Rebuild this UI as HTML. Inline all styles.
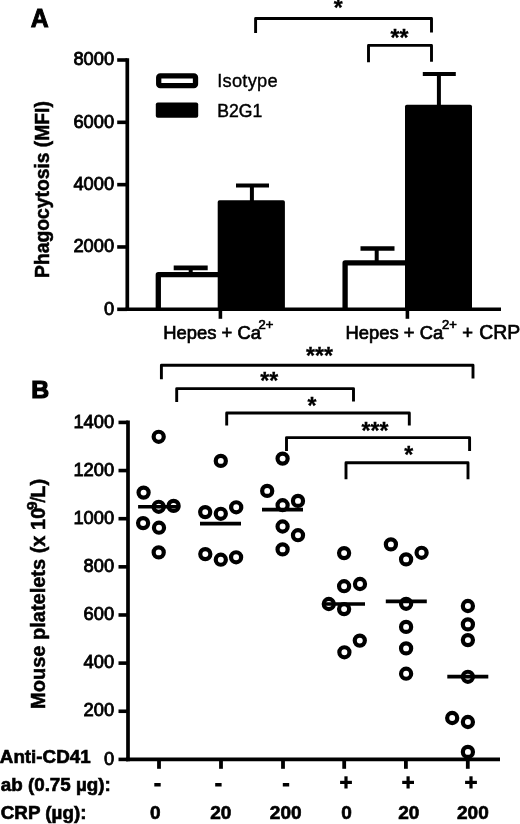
<!DOCTYPE html>
<html><head><meta charset="utf-8"><style>
html,body{margin:0;padding:0;background:#fff;}
svg{display:block;font-family:"Liberation Sans", sans-serif;filter:grayscale(1);}
</style></head><body>
<svg width="520" height="824" viewBox="0 0 520 824">
<rect width="520" height="824" fill="#fff"/>
<text x="30.7" y="27.2" font-size="24.9" font-weight="bold" text-anchor="start" stroke="#000" stroke-width="0.9" >A</text>
<line x1="127.3" y1="58.2" x2="127.3" y2="311" stroke="#000" stroke-width="3.7" stroke-linecap="butt"/>
<line x1="117.2" y1="309.3" x2="127.3" y2="309.3" stroke="#000" stroke-width="3.6" stroke-linecap="butt"/>
<text transform="translate(114.2,314.6) scale(0.965,1)" font-size="19" font-weight="normal" text-anchor="end" stroke="#000" stroke-width="0.85" >0</text>
<line x1="117.2" y1="246.97" x2="127.3" y2="246.97" stroke="#000" stroke-width="3.6" stroke-linecap="butt"/>
<text transform="translate(114.2,252.27) scale(0.965,1)" font-size="19" font-weight="normal" text-anchor="end" stroke="#000" stroke-width="0.85" >2000</text>
<line x1="117.2" y1="184.65" x2="127.3" y2="184.65" stroke="#000" stroke-width="3.6" stroke-linecap="butt"/>
<text transform="translate(114.2,189.95) scale(0.965,1)" font-size="19" font-weight="normal" text-anchor="end" stroke="#000" stroke-width="0.85" >4000</text>
<line x1="117.2" y1="122.322" x2="127.3" y2="122.322" stroke="#000" stroke-width="3.6" stroke-linecap="butt"/>
<text transform="translate(114.2,127.622) scale(0.965,1)" font-size="19" font-weight="normal" text-anchor="end" stroke="#000" stroke-width="0.85" >6000</text>
<line x1="117.2" y1="60" x2="127.3" y2="60" stroke="#000" stroke-width="3.6" stroke-linecap="butt"/>
<text transform="translate(114.2,65.296) scale(0.965,1)" font-size="19" font-weight="normal" text-anchor="end" stroke="#000" stroke-width="0.85" >8000</text>
<line x1="125.5" y1="309.3" x2="501" y2="309.3" stroke="#000" stroke-width="3.6" stroke-linecap="butt"/>
<line x1="220.4" y1="309.3" x2="220.4" y2="318.8" stroke="#000" stroke-width="3.6" stroke-linecap="butt"/>
<line x1="407.4" y1="309.3" x2="407.4" y2="318.8" stroke="#000" stroke-width="3.6" stroke-linecap="butt"/>
<path d="M158.3 309.3 V274.7 H220.3" fill="none" stroke="#000" stroke-width="5.3" stroke-linejoin="round"/>
<path d="M217.7 309.3 V202.0 Q217.7 200.2 219.5 200.2 H283.1 Q284.9 200.2 284.9 202.0 V309.3 Z" fill="#000"/>
<line x1="190.7" y1="274.7" x2="190.7" y2="267.9" stroke="#000" stroke-width="4" stroke-linecap="butt"/>
<line x1="173.7" y1="267.9" x2="207.7" y2="267.9" stroke="#000" stroke-width="4.6" stroke-linecap="butt"/>
<line x1="251.9" y1="201" x2="251.9" y2="185.5" stroke="#000" stroke-width="4" stroke-linecap="butt"/>
<line x1="236.0" y1="185.5" x2="269.0" y2="185.5" stroke="#000" stroke-width="3.9" stroke-linecap="butt"/>
<path d="M345.1 309.3 V262.9 H407.4" fill="none" stroke="#000" stroke-width="5.3" stroke-linejoin="round"/>
<path d="M405 309.3 V106.6 Q405 104.8 406.8 104.8 H470.2 Q472 104.8 472 106.6 V309.3 Z" fill="#000"/>
<line x1="376.7" y1="262.9" x2="376.7" y2="248.5" stroke="#000" stroke-width="4" stroke-linecap="butt"/>
<line x1="360.5" y1="248.5" x2="394.5" y2="248.5" stroke="#000" stroke-width="4.6" stroke-linecap="butt"/>
<line x1="438.9" y1="106" x2="438.9" y2="74" stroke="#000" stroke-width="4" stroke-linecap="butt"/>
<line x1="422.8" y1="74" x2="455.8" y2="74" stroke="#000" stroke-width="3.9" stroke-linecap="butt"/>
<rect x="158.7" y="75.95" width="36.8" height="9.7" rx="1.5" fill="#fff" stroke="#000" stroke-width="5.3"/>
<rect x="155.8" y="102.4" width="42.4" height="15.3" rx="2" fill="#000"/>
<text x="217.2" y="87.3" font-size="18.3" font-weight="normal" text-anchor="start" stroke="#000" stroke-width="0.35" letter-spacing="0.25">Isotype</text>
<text x="217.2" y="117.3" font-size="17.6" font-weight="normal" text-anchor="start" stroke="#000" stroke-width="0.45" >B2G1</text>
<text transform="translate(48.6,277.9) rotate(-90)" font-size="19.3" font-weight="bold" stroke="#000" stroke-width="0.5">Phagocytosis (MFI)</text>
<text x="163.3" y="338.5" font-size="18.4" font-weight="normal" text-anchor="start" stroke="#000" stroke-width="0.7" >Hepes + Ca<tspan font-size="13" dy="-10" dx="-2.5">2+</tspan></text>
<text x="345.6" y="338.5" font-size="18.4" font-weight="normal" text-anchor="start" stroke="#000" stroke-width="0.7" >Hepes + Ca<tspan font-size="13" dy="-10" dx="-1.3">2+</tspan></text>
<text x="462.2" y="338.5" font-size="18.4" font-weight="normal" text-anchor="start" stroke="#000" stroke-width="0.7" >+</text>
<text x="479.2" y="338.8" font-size="19.4" font-weight="normal" text-anchor="start" stroke="#000" stroke-width="0.7" >CRP</text>
<path d="M255.6 33 V18.5 H431.5 V32.5" fill="none" stroke="#000" stroke-width="2.9" stroke-linejoin="round"/>
<path d="M368.5 62.2 V45.4 H431.5 V61.8" fill="none" stroke="#000" stroke-width="2.9" stroke-linejoin="round"/>
<text x="338.2" y="15.9" font-size="23" font-weight="bold" text-anchor="middle" stroke="#000" stroke-width="0.3" >*</text>
<text x="399.5" y="45.6" font-size="23" font-weight="bold" text-anchor="middle" stroke="#000" stroke-width="0.3" >**</text>
<text x="31.2" y="397.9" font-size="24.8" font-weight="bold" text-anchor="start" stroke="#000" stroke-width="1.2" >B</text>
<line x1="128" y1="420.6" x2="128" y2="761.3" stroke="#000" stroke-width="3.7" stroke-linecap="butt"/>
<line x1="118.5" y1="759.4" x2="128" y2="759.4" stroke="#000" stroke-width="3.6" stroke-linecap="butt"/>
<text transform="translate(114.2,764.6) scale(0.965,1)" font-size="19" font-weight="normal" text-anchor="end" stroke="#000" stroke-width="0.85" >0</text>
<line x1="118.5" y1="711.26" x2="128" y2="711.26" stroke="#000" stroke-width="3.6" stroke-linecap="butt"/>
<text transform="translate(114.2,716.46) scale(0.965,1)" font-size="19" font-weight="normal" text-anchor="end" stroke="#000" stroke-width="0.85" >200</text>
<line x1="118.5" y1="663.12" x2="128" y2="663.12" stroke="#000" stroke-width="3.6" stroke-linecap="butt"/>
<text transform="translate(114.2,668.32) scale(0.965,1)" font-size="19" font-weight="normal" text-anchor="end" stroke="#000" stroke-width="0.85" >400</text>
<line x1="118.5" y1="614.98" x2="128" y2="614.98" stroke="#000" stroke-width="3.6" stroke-linecap="butt"/>
<text transform="translate(114.2,620.18) scale(0.965,1)" font-size="19" font-weight="normal" text-anchor="end" stroke="#000" stroke-width="0.85" >600</text>
<line x1="118.5" y1="566.84" x2="128" y2="566.84" stroke="#000" stroke-width="3.6" stroke-linecap="butt"/>
<text transform="translate(114.2,572.04) scale(0.965,1)" font-size="19" font-weight="normal" text-anchor="end" stroke="#000" stroke-width="0.85" >800</text>
<line x1="118.5" y1="518.7" x2="128" y2="518.7" stroke="#000" stroke-width="3.6" stroke-linecap="butt"/>
<text transform="translate(114.2,523.9) scale(0.965,1)" font-size="19" font-weight="normal" text-anchor="end" stroke="#000" stroke-width="0.85" >1000</text>
<line x1="118.5" y1="470.56" x2="128" y2="470.56" stroke="#000" stroke-width="3.6" stroke-linecap="butt"/>
<text transform="translate(114.2,475.76) scale(0.965,1)" font-size="19" font-weight="normal" text-anchor="end" stroke="#000" stroke-width="0.85" >1200</text>
<line x1="118.5" y1="422.42" x2="128" y2="422.42" stroke="#000" stroke-width="3.6" stroke-linecap="butt"/>
<text transform="translate(114.2,427.62) scale(0.965,1)" font-size="19" font-weight="normal" text-anchor="end" stroke="#000" stroke-width="0.85" >1400</text>
<line x1="126" y1="759.4" x2="500" y2="759.4" stroke="#000" stroke-width="3.8" stroke-linecap="butt"/>
<line x1="159" y1="759.4" x2="159" y2="768.8" stroke="#000" stroke-width="3.8" stroke-linecap="butt"/>
<line x1="221" y1="759.4" x2="221" y2="768.8" stroke="#000" stroke-width="3.8" stroke-linecap="butt"/>
<line x1="283" y1="759.4" x2="283" y2="768.8" stroke="#000" stroke-width="3.8" stroke-linecap="butt"/>
<line x1="344.2" y1="759.4" x2="344.2" y2="768.8" stroke="#000" stroke-width="3.8" stroke-linecap="butt"/>
<line x1="405.9" y1="759.4" x2="405.9" y2="768.8" stroke="#000" stroke-width="3.8" stroke-linecap="butt"/>
<line x1="467.8" y1="759.4" x2="467.8" y2="768.8" stroke="#000" stroke-width="3.8" stroke-linecap="butt"/>
<line x1="138.1" y1="506.8" x2="179.1" y2="506.8" stroke="#000" stroke-width="3.6" stroke-linecap="butt"/>
<line x1="200.0" y1="523.6" x2="241.0" y2="523.6" stroke="#000" stroke-width="3.6" stroke-linecap="butt"/>
<line x1="262.0" y1="509.6" x2="303.0" y2="509.6" stroke="#000" stroke-width="3.6" stroke-linecap="butt"/>
<line x1="324.0" y1="604" x2="365.0" y2="604" stroke="#000" stroke-width="3.6" stroke-linecap="butt"/>
<line x1="385.8" y1="601.4" x2="426.8" y2="601.4" stroke="#000" stroke-width="3.6" stroke-linecap="butt"/>
<line x1="447.3" y1="676.6" x2="488.3" y2="676.6" stroke="#000" stroke-width="3.6" stroke-linecap="butt"/>
<circle cx="158.7" cy="436.8" r="5.05" fill="none" stroke="#000" stroke-width="4.2"/>
<circle cx="143.6" cy="492.6" r="5.05" fill="none" stroke="#000" stroke-width="4.2"/>
<circle cx="158.7" cy="506.8" r="5.05" fill="none" stroke="#000" stroke-width="4.2"/>
<circle cx="173.6" cy="505.9" r="5.05" fill="none" stroke="#000" stroke-width="4.2"/>
<circle cx="143.1" cy="523.1" r="5.05" fill="none" stroke="#000" stroke-width="4.2"/>
<circle cx="159" cy="527.7" r="5.05" fill="none" stroke="#000" stroke-width="4.2"/>
<circle cx="158.7" cy="552.4" r="5.05" fill="none" stroke="#000" stroke-width="4.2"/>
<circle cx="220.8" cy="460.9" r="5.05" fill="none" stroke="#000" stroke-width="4.2"/>
<circle cx="205.2" cy="512.1" r="5.05" fill="none" stroke="#000" stroke-width="4.2"/>
<circle cx="220.8" cy="513.8" r="5.05" fill="none" stroke="#000" stroke-width="4.2"/>
<circle cx="236.2" cy="507.3" r="5.05" fill="none" stroke="#000" stroke-width="4.2"/>
<circle cx="205.3" cy="554.1" r="5.05" fill="none" stroke="#000" stroke-width="4.2"/>
<circle cx="220.8" cy="559.7" r="5.05" fill="none" stroke="#000" stroke-width="4.2"/>
<circle cx="236.1" cy="557.3" r="5.05" fill="none" stroke="#000" stroke-width="4.2"/>
<circle cx="282.6" cy="458.6" r="5.05" fill="none" stroke="#000" stroke-width="4.2"/>
<circle cx="267.2" cy="490.9" r="5.05" fill="none" stroke="#000" stroke-width="4.2"/>
<circle cx="282.6" cy="505.2" r="5.05" fill="none" stroke="#000" stroke-width="4.2"/>
<circle cx="298" cy="500.9" r="5.05" fill="none" stroke="#000" stroke-width="4.2"/>
<circle cx="282.6" cy="526.5" r="5.05" fill="none" stroke="#000" stroke-width="4.2"/>
<circle cx="298" cy="535.2" r="5.05" fill="none" stroke="#000" stroke-width="4.2"/>
<circle cx="282.6" cy="549.4" r="5.05" fill="none" stroke="#000" stroke-width="4.2"/>
<circle cx="344.1" cy="553.1" r="5.05" fill="none" stroke="#000" stroke-width="4.2"/>
<circle cx="344.1" cy="586.2" r="5.05" fill="none" stroke="#000" stroke-width="4.2"/>
<circle cx="360" cy="584.0" r="5.05" fill="none" stroke="#000" stroke-width="4.2"/>
<circle cx="328.8" cy="604.0" r="5.05" fill="none" stroke="#000" stroke-width="4.2"/>
<circle cx="344.1" cy="609.1" r="5.05" fill="none" stroke="#000" stroke-width="4.2"/>
<circle cx="359.8" cy="640.6" r="5.05" fill="none" stroke="#000" stroke-width="4.2"/>
<circle cx="344.4" cy="652.3" r="5.05" fill="none" stroke="#000" stroke-width="4.2"/>
<circle cx="390.9" cy="544.4" r="5.05" fill="none" stroke="#000" stroke-width="4.2"/>
<circle cx="421.6" cy="552.8" r="5.05" fill="none" stroke="#000" stroke-width="4.2"/>
<circle cx="406.1" cy="559.4" r="5.05" fill="none" stroke="#000" stroke-width="4.2"/>
<circle cx="406.1" cy="603.8" r="5.05" fill="none" stroke="#000" stroke-width="4.2"/>
<circle cx="406.1" cy="626.9" r="5.05" fill="none" stroke="#000" stroke-width="4.2"/>
<circle cx="406.1" cy="648.4" r="5.05" fill="none" stroke="#000" stroke-width="4.2"/>
<circle cx="406.1" cy="673.7" r="5.05" fill="none" stroke="#000" stroke-width="4.2"/>
<circle cx="467.9" cy="606.0" r="5.05" fill="none" stroke="#000" stroke-width="4.2"/>
<circle cx="467.9" cy="624.4" r="5.05" fill="none" stroke="#000" stroke-width="4.2"/>
<circle cx="467.9" cy="640.1" r="5.05" fill="none" stroke="#000" stroke-width="4.2"/>
<circle cx="467.9" cy="676.8" r="5.05" fill="none" stroke="#000" stroke-width="4.2"/>
<circle cx="452.2" cy="718.0" r="5.05" fill="none" stroke="#000" stroke-width="4.2"/>
<circle cx="467.9" cy="722.0" r="5.05" fill="none" stroke="#000" stroke-width="4.2"/>
<circle cx="467.9" cy="751.9" r="5.05" fill="none" stroke="#000" stroke-width="4.2"/>
<path d="M161.4 379.2 V365.3 H473 V378.5" fill="none" stroke="#000" stroke-width="2.9" stroke-linejoin="round"/>
<path d="M176.7 402 V388.6 H353.5 V401.5" fill="none" stroke="#000" stroke-width="2.9" stroke-linejoin="round"/>
<path d="M226.7 425.6 V413 H409.3 V425.6" fill="none" stroke="#000" stroke-width="2.9" stroke-linejoin="round"/>
<path d="M286.5 451 V437.6 H469.6 V451" fill="none" stroke="#000" stroke-width="2.9" stroke-linejoin="round"/>
<path d="M346 479.2 V462.8 H468 V479.2" fill="none" stroke="#000" stroke-width="2.9" stroke-linejoin="round"/>
<text x="319.5" y="364.0" font-size="23" font-weight="bold" text-anchor="middle" stroke="#000" stroke-width="0.3" >***</text>
<text x="269.3" y="389.2" font-size="23" font-weight="bold" text-anchor="middle" stroke="#000" stroke-width="0.3" >**</text>
<text x="312" y="414.0" font-size="23" font-weight="bold" text-anchor="middle" stroke="#000" stroke-width="0.3" >*</text>
<text x="375" y="438.5" font-size="23" font-weight="bold" text-anchor="middle" stroke="#000" stroke-width="0.3" >***</text>
<text x="408.7" y="463.2" font-size="23" font-weight="bold" text-anchor="middle" stroke="#000" stroke-width="0.3" >*</text>
<text transform="translate(45.3,708.9) rotate(-90)" font-size="20" font-weight="bold" stroke="#000" stroke-width="0.5">Mouse platelets (x 10<tspan font-size="15.5" dy="-8.5" dx="-2.4">9</tspan><tspan dy="8.5" dx="-1" font-weight="normal" stroke-width="0.6">/</tspan><tspan dx="-0.8">L)</tspan></text>
<text x="-0.2" y="763" font-size="18.8" font-weight="bold" text-anchor="start" stroke="#000" stroke-width="0.65" >Anti-CD41</text>
<text x="0.8" y="790.6" font-size="18.8" font-weight="bold" text-anchor="start" stroke="#000" stroke-width="0.65" >ab (0.75 µg):</text>
<text x="0.8" y="819" font-size="18.8" font-weight="bold" text-anchor="start" stroke="#000" stroke-width="0.65" >CRP (µg):</text>
<rect x="154.3" y="783.0" width="6.4" height="3.5" fill="#000"/>
<text x="155.2" y="819.4" font-size="19" font-weight="bold" text-anchor="middle" stroke="#000" stroke-width="0.65" >0</text>
<rect x="215.2" y="783.0" width="6.4" height="3.5" fill="#000"/>
<text x="220.8" y="819.4" font-size="19" font-weight="bold" text-anchor="middle" stroke="#000" stroke-width="0.65" >20</text>
<rect x="282.8" y="783.0" width="6.4" height="3.5" fill="#000"/>
<text x="285.7" y="819.4" font-size="19" font-weight="bold" text-anchor="middle" stroke="#000" stroke-width="0.65" >200</text>
<rect x="340.1" y="780.8" width="11.8" height="3.2" fill="#000"/>
<rect x="344.4" y="776.3" width="3.2" height="12.2" fill="#000"/>
<text x="346.6" y="819.4" font-size="19" font-weight="bold" text-anchor="middle" stroke="#000" stroke-width="0.65" >0</text>
<rect x="402.2" y="780.8" width="11.8" height="3.2" fill="#000"/>
<rect x="406.5" y="776.3" width="3.2" height="12.2" fill="#000"/>
<text x="408.8" y="819.4" font-size="19" font-weight="bold" text-anchor="middle" stroke="#000" stroke-width="0.65" >20</text>
<rect x="465.1" y="780.8" width="11.8" height="3.2" fill="#000"/>
<rect x="469.4" y="776.3" width="3.2" height="12.2" fill="#000"/>
<text x="472.9" y="819.4" font-size="19" font-weight="bold" text-anchor="middle" stroke="#000" stroke-width="0.65" >200</text>
</svg>
</body></html>
